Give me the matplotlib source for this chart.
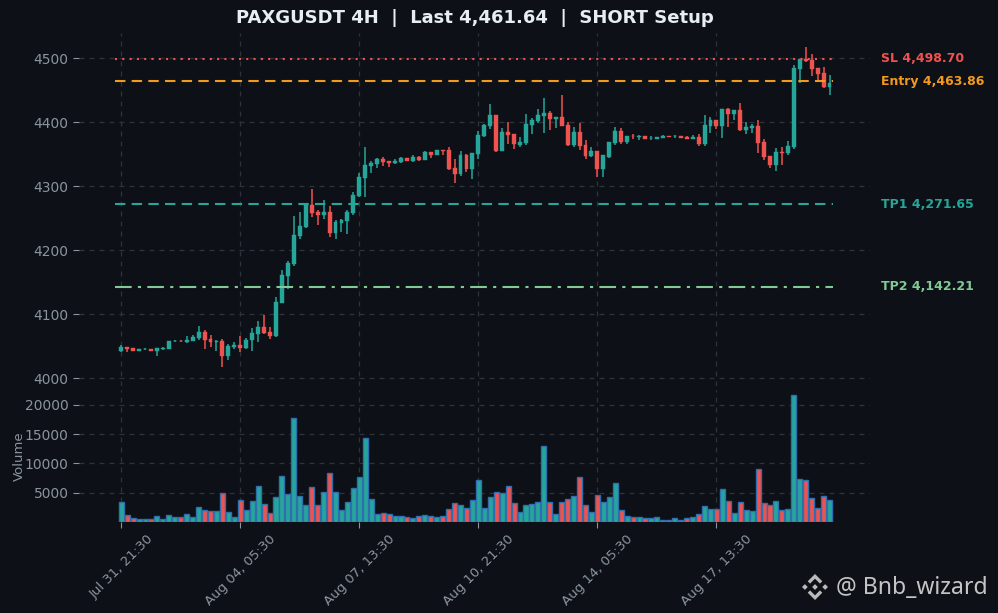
import numpy as np
import matplotlib
matplotlib.use("Agg")
import matplotlib.pyplot as plt
from matplotlib.patches import Polygon
import matplotlib.transforms as mtransforms

opens = [4042.2, 4048.4, 4046.9, 4042.2, 4045.0, 4045.3, 4042.2, 4046.0, 4045.3, 4057.5,
         4058.5, 4056.0, 4058.0, 4063.0, 4072.4, 4061.0, 4057.0, 4057.8, 4034.4, 4048.0,
         4052.0, 4047.0, 4059.4, 4068.7, 4079.7, 4071.9, 4065.6, 4117.7, 4159.4, 4178.1,
         4221.9, 4235.4, 4270.3, 4259.4, 4254.7, 4259.4, 4227.0, 4242.7, 4245.8, 4258.3,
         4284.4, 4312.5, 4331.2, 4334.4, 4342.2, 4339.0, 4336.0, 4337.5, 4343.8, 4339.0,
         4345.3, 4340.6, 4353.1, 4348.4, 4356.2, 4356.2, 4328.0, 4318.8, 4348.4, 4326.6,
         4350.5, 4378.6, 4393.8, 4410.9, 4354.7, 4384.4, 4381.2, 4364.1, 4367.7, 4395.3,
         4401.6, 4409.4, 4414.1, 4404.7, 4407.8, 4395.3, 4364.1, 4384.4, 4364.1, 4346.9,
         4354.7, 4326.6, 4345.3, 4367.2, 4385.9, 4368.8, 4378.6, 4377.0, 4378.1, 4374.5,
         4373.4, 4375.5, 4378.1, 4377.5, 4378.1, 4376.5, 4373.4, 4376.5, 4365.6, 4393.1,
         4403.1, 4393.8, 4420.3, 4412.5, 4418.8, 4387.5, 4390.1, 4393.8, 4368.8, 4346.9,
         4332.8, 4353.1, 4351.6, 4361.0, 4482.8, 4498.4, 4496.9, 4484.4, 4476.5, 4454.7]
highs = [4051.5, 4049.0, 4047.2, 4045.5, 4047.0, 4045.8, 4047.5, 4049.0, 4058.5, 4060.0,
         4060.0, 4065.6, 4067.0, 4081.0, 4075.0, 4067.0, 4059.5, 4061.0, 4053.0, 4056.0,
         4065.6, 4062.0, 4077.6, 4089.0, 4098.4, 4080.0, 4126.0, 4168.7, 4182.8, 4253.1,
         4259.9, 4273.0, 4294.8, 4262.5, 4278.0, 4268.8, 4246.9, 4249.0, 4262.5, 4290.6,
         4319.8, 4360.4, 4339.6, 4343.8, 4345.8, 4339.5, 4342.0, 4345.3, 4344.5, 4348.0,
         4346.9, 4354.0, 4353.5, 4356.8, 4356.5, 4360.4, 4342.2, 4354.7, 4350.0, 4352.0,
         4386.5, 4396.4, 4428.1, 4411.5, 4390.1, 4400.0, 4381.5, 4376.0, 4412.5, 4405.7,
         4420.3, 4437.5, 4417.2, 4408.0, 4442.2, 4400.0, 4392.7, 4398.4, 4371.9, 4361.5,
         4355.0, 4348.6, 4369.0, 4392.2, 4390.1, 4378.5, 4381.2, 4380.0, 4378.5, 4377.6,
         4377.0, 4379.0, 4378.5, 4380.2, 4378.5, 4378.0, 4379.7, 4381.8, 4411.0, 4407.3,
         4403.5, 4420.5, 4421.9, 4419.0, 4429.2, 4400.5, 4396.9, 4403.1, 4372.9, 4347.2,
         4359.4, 4360.9, 4370.3, 4489.0, 4498.6, 4517.2, 4506.2, 4484.6, 4485.9, 4473.4]
lows = [4040.0, 4040.0, 4042.0, 4041.8, 4044.0, 4042.0, 4035.0, 4044.0, 4045.0, 4056.0,
        4057.0, 4054.0, 4057.5, 4059.0, 4044.8, 4049.0, 4042.7, 4017.7, 4028.0, 4045.3,
        4040.0, 4046.0, 4042.7, 4056.8, 4068.8, 4060.4, 4063.5, 4116.7, 4139.6, 4174.5,
        4216.7, 4234.0, 4252.0, 4239.6, 4248.0, 4219.8, 4217.7, 4228.6, 4224.5, 4255.2,
        4282.3, 4283.3, 4319.8, 4328.6, 4331.2, 4330.0, 4334.0, 4336.5, 4338.5, 4338.0,
        4338.5, 4340.0, 4344.0, 4348.0, 4348.4, 4325.0, 4305.2, 4315.6, 4322.4, 4311.5,
        4342.2, 4377.0, 4388.5, 4353.6, 4354.0, 4365.1, 4357.3, 4360.4, 4364.0, 4381.8,
        4398.4, 4383.3, 4387.5, 4390.0, 4393.5, 4362.5, 4360.4, 4356.3, 4342.2, 4344.8,
        4314.6, 4314.6, 4344.5, 4364.1, 4365.6, 4365.6, 4373.0, 4372.0, 4373.0, 4372.4,
        4373.0, 4375.0, 4376.0, 4375.0, 4374.5, 4373.0, 4373.0, 4362.5, 4362.5, 4383.3,
        4388.5, 4375.5, 4392.7, 4403.1, 4386.5, 4381.2, 4383.3, 4352.1, 4340.6, 4328.6,
        4324.0, 4332.8, 4348.4, 4357.8, 4460.4, 4493.2, 4471.9, 4465.6, 4453.1, 4442.2]
closes = [4048.4, 4045.3, 4042.2, 4045.0, 4046.0, 4042.2, 4047.0, 4046.5, 4057.8, 4058.5,
          4057.5, 4060.0, 4064.6, 4072.4, 4059.4, 4056.0, 4058.0, 4034.4, 4050.0, 4052.0,
          4047.0, 4059.4, 4070.8, 4079.7, 4069.8, 4065.6, 4118.7, 4160.9, 4179.7, 4223.4,
          4237.5, 4271.9, 4258.3, 4254.7, 4259.4, 4227.0, 4243.8, 4246.9, 4259.4, 4285.9,
          4314.6, 4332.8, 4336.5, 4342.2, 4337.5, 4336.0, 4339.0, 4343.8, 4339.0, 4345.3,
          4340.6, 4353.1, 4348.4, 4356.2, 4354.7, 4326.6, 4318.8, 4348.4, 4326.6, 4351.6,
          4379.7, 4395.3, 4410.9, 4354.7, 4384.4, 4379.7, 4365.1, 4368.8, 4396.9, 4403.1,
          4410.9, 4414.1, 4404.7, 4407.8, 4393.8, 4364.1, 4384.4, 4362.5, 4346.9, 4354.7,
          4326.6, 4348.4, 4368.8, 4385.9, 4368.8, 4378.1, 4377.6, 4378.0, 4373.4, 4375.5,
          4376.6, 4378.1, 4376.6, 4378.5, 4375.0, 4373.4, 4376.5, 4365.6, 4395.3, 4403.1,
          4393.8, 4420.3, 4412.5, 4418.8, 4387.5, 4392.2, 4393.8, 4367.7, 4345.8, 4332.8,
          4353.1, 4352.0, 4362.5, 4484.4, 4498.4, 4495.3, 4482.8, 4475.0, 4454.7, 4461.64]
volumes = [3480, 1120, 620, 450, 450, 450, 950, 450, 1120, 790,
           790, 1290, 790, 2640, 2130, 1800, 1800, 5000, 1630, 790,
           3820, 2130, 3650, 6180, 3150, 1460, 4330, 7870, 4830, 17810,
           4490, 2980, 6010, 2980, 5170, 8370, 5170, 1970, 3480, 5840,
           7700, 14270, 3990, 1290, 1460, 1290, 950, 950, 790, 620,
           950, 1120, 950, 790, 950, 2300, 3310, 2980, 2470, 3820,
           7190, 2470, 4330, 5170, 5000, 6180, 3310, 1630, 2980, 3150,
           3480, 12920, 3480, 1290, 3480, 3990, 4490, 7700, 2980, 1630,
           4660, 3480, 4330, 6690, 1970, 950, 790, 790, 620, 620,
           790, 340, 340, 620, 340, 620, 790, 1290, 2810, 2300,
           2300, 5670, 3650, 1460, 3480, 2130, 1800, 9050, 3310, 2980,
           3650, 2130, 2300, 21690, 7360, 7190, 4160, 2470, 4490, 3820]

tick_pos = [0, 20, 40, 60, 80, 100]
tick_labels = ["Jul 31, 21:30", "Aug 04, 05:30", "Aug 07, 13:30",
               "Aug 10, 21:30", "Aug 14, 05:30", "Aug 17, 13:30"]
price_ticks = [4000, 4100, 4200, 4300, 4400, 4500]
vol_ticks = [5000, 10000, 15000, 20000]

levels = [("SL", 4498.70), ("Entry", 4463.86), ("TP1", 4271.65), ("TP2", 4142.21)]
title = "PAXGUSDT 4H  |  Last 4,461.64  |  SHORT Setup"

BG = "#0d1117"
UP = "#26a69a"
DN = "#ef5350"
GRID = "#2d333b"
TXT = "#8b949e"
level_colors = {"SL": "#ef5350", "Entry": "#f39a1e", "TP1": "#26a69a", "TP2": "#81c995"}
level_styles = {"SL": (0, (1, 2.5)), "Entry": (0, (5, 3)), "TP1": (0, (5, 3)),
                "TP2": (0, (8, 3, 1.5, 3))}

o = np.array(opens); h = np.array(highs); l = np.array(lows); c = np.array(closes)
v = np.array(volumes)
x = np.arange(len(o))
up = c >= o
cols = np.where(up, UP, DN)

fig = plt.figure(figsize=(9.98, 6.13), dpi=100, facecolor=BG)
L, R = 79 / 998, 870 / 998
ax = fig.add_axes([L, 1 - 386 / 613, R - L, (386 - 33) / 613])
axv = fig.add_axes([L, 1 - 522 / 613, R - L, (522 - 390) / 613], sharex=ax)

for a in (ax, axv):
    a.set_facecolor(BG)
    for s in a.spines.values():
        s.set_visible(False)
    a.grid(True, color=GRID, linestyle=(0, (4, 4)), linewidth=0.9)
    a.set_axisbelow(True)
    a.tick_params(colors=TXT, labelsize=10, length=4, width=0.8)

# candles
ax.vlines(x, l, h, colors=cols, linewidth=1.1, zorder=3)
body_bottom = np.minimum(o, c)
body_h = np.maximum(np.abs(c - o), 0.9)
ax.bar(x, body_h, bottom=body_bottom, width=0.66, color=cols, edgecolor=cols,
       linewidth=0.3, zorder=4)

ax.set_xlim(-7.1, 125.8)
ax.set_ylim(3987.5, 4539.1)
ax.set_yticks(price_ticks)
ax.tick_params(axis="x", labelbottom=False, length=0)

# levels
for name, val in levels:
    col = level_colors[name]
    ax.hlines(val, -1, len(o) - 0.5, colors=col, linestyles=level_styles[name],
              linewidth=1.5, zorder=5)
    tr = mtransforms.blended_transform_factory(ax.transAxes, ax.transData)
    ax.text(1.0139, val, f"{name} {val:,.2f}", transform=tr, color=col,
            fontsize=9, fontweight="bold", ha="left", va="center", clip_on=False)

# volume
axv.bar(x, v, width=0.85, color=cols, edgecolor="#2f6fb0", linewidth=1.0, zorder=3)
axv.set_ylim(0, 22500)
axv.set_yticks(vol_ticks)
axv.set_ylabel("Volume", color=TXT, fontsize=9.5, labelpad=-0.5)
axv.set_xticks(tick_pos)
axv.set_xticklabels(tick_labels, rotation=45, ha="center", color=TXT, fontsize=9.5)

fig.text((L + R) / 2, 1 - 18 / 613, title, color="#e6edf3", fontsize=13,
         fontweight="bold", ha="center", va="center")

# watermark: Binance-style logo + handle
cx, cy, s = 815, 613 - 587, 13.0
def P(pts, alpha=0.85):
    pts = [((cx + px * s) / 998, (cy + py * s) / 613) for px, py in pts]
    fig.patches.append(Polygon(pts, closed=True, transform=fig.transFigure,
                               facecolor="#d9d9d9", edgecolor="none", alpha=alpha))
d = 0.22
P([(0, d), (d, 0), (0, -d), (-d, 0)])
for sx in (-1, 1):
    P([(sx * 0.78 + 0, d), (sx * 0.78 + d, 0), (sx * 0.78, -d), (sx * 0.78 - d, 0)])
for sy in (-1, 1):
    P([(0, sy * 1.0), (0.56, sy * 0.44), (0.38, sy * 0.26), (0, sy * 0.64),
       (-0.38, sy * 0.26), (-0.56, sy * 0.44)])
fig.text(836 / 998, 1 - 588 / 613, "@ Bnb_wizard", color="#d9d9d9", alpha=0.9,
         fontsize=16.5, family=["Noto Sans", "DejaVu Sans"], ha="left", va="center")

fig.savefig("out.png", dpi=100, facecolor=BG)
